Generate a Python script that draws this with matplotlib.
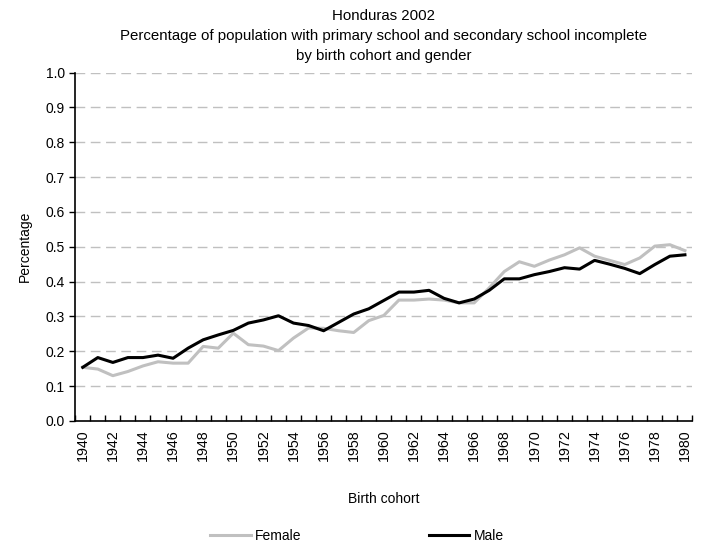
import numpy as np
import matplotlib
matplotlib.use("Agg")
import matplotlib.pyplot as plt

plt.rcParams['font.family'] = ['Liberation Sans', 'DejaVu Sans']

years = list(range(1940, 1981))
female = [0.154, 0.149, 0.130, 0.142, 0.158, 0.170, 0.166, 0.166, 0.214, 0.209,
          0.252, 0.219, 0.215, 0.202, 0.238, 0.267, 0.266, 0.259, 0.254, 0.288,
          0.303, 0.347, 0.347, 0.350, 0.347, 0.339, 0.339, 0.382, 0.429, 0.457,
          0.444, 0.462, 0.477, 0.497, 0.473, 0.461, 0.449, 0.468, 0.502, 0.506,
          0.489]
male = [0.154, 0.182, 0.168, 0.182, 0.182, 0.189, 0.180, 0.209, 0.233, 0.247,
        0.260, 0.281, 0.290, 0.302, 0.281, 0.274, 0.259, 0.283, 0.307, 0.322,
        0.346, 0.370, 0.370, 0.375, 0.352, 0.339, 0.350, 0.375, 0.408, 0.408,
        0.420, 0.429, 0.440, 0.436, 0.461, 0.450, 0.438, 0.423, 0.449, 0.473,
        0.477]

fig = plt.figure(figsize=(7.03, 5.46), dpi=100)
ax = fig.add_axes([0.107, 0.229, 0.878, 0.638])

x = np.arange(len(years))
ax.plot(x, female, color='#c0c0c0', lw=2.2, label='Female', zorder=3)
ax.plot(x, male, color='black', lw=2.2, label='Male', zorder=4)

ax.set_xlim(-0.5, len(years) - 0.5)
ax.set_ylim(0, 1.0)
ax.set_yticks(np.arange(0, 1.01, 0.1))
ax.set_yticklabels([f"{v:.1f}" for v in np.arange(0, 1.01, 0.1)], fontsize=10)
for v in np.arange(0.1, 1.01, 0.1):
    ax.axhline(v, color='#c0c0c0', lw=1, ls=(0, (7, 4)), zorder=1)

ax.set_xticks(x[::2])
ax.set_xticklabels([str(y) for y in years[::2]], rotation=90, fontsize=10.3)
ax.set_xticks(np.arange(-0.5, len(years), 1), minor=True)
ax.tick_params(axis='x', which='major', length=0, pad=6)
ax.tick_params(axis='x', which='minor', direction='in', length=4, width=1)
ax.tick_params(axis='y', direction='out', length=4, width=1)

for s in ['top', 'right']:
    ax.spines[s].set_visible(False)
for s in ['left', 'bottom']:
    ax.spines[s].set_linewidth(1.2)

ax.set_ylabel('Percentage', fontsize=10, labelpad=10)
ax.set_xlabel('Birth cohort', fontsize=10, labelpad=22)
ax.set_title('Honduras 2002\nPercentage of population with primary school and secondary school incomplete\nby birth cohort and gender',
             fontsize=10.8, linespacing=1.55, pad=9)

fig.legend(loc='lower center', ncol=2, frameon=False, fontsize=10,
           bbox_to_anchor=(0.508, -0.018), handlelength=2.9, columnspacing=9.2,
           handletextpad=0.3)

fig.savefig('out.png', dpi=100)
